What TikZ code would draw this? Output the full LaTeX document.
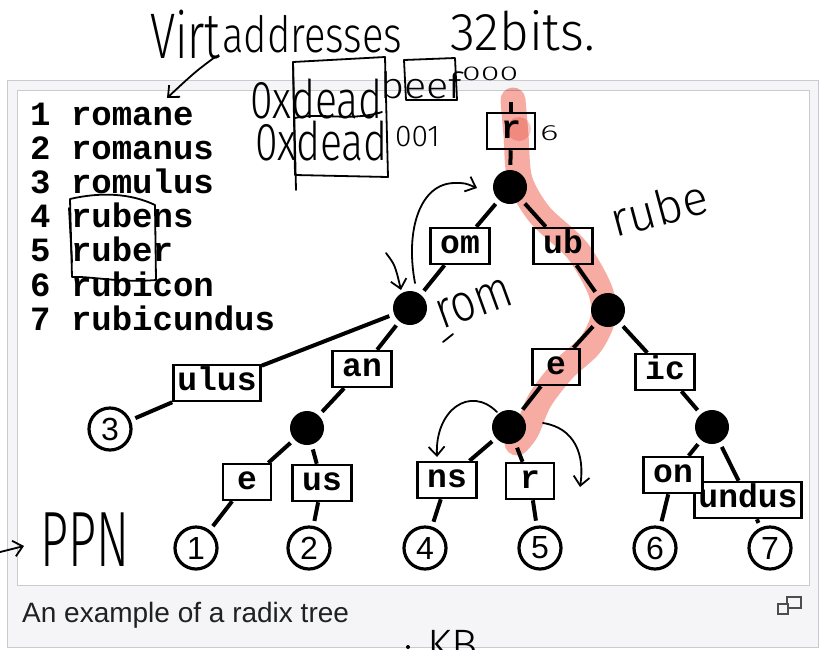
\documentclass[tikz,border=0pt]{standalone}
\usepackage{fontspec}
\setmainfont{Liberation Sans}
\newfontfamily\codefont{Liberation Mono}
\newfontfamily\handfont{Fira Sans Light}
\usetikzlibrary{arrows.meta}

\definecolor{frameline}{HTML}{C8CCD1}
\definecolor{framebg}{HTML}{F5F5F8}
\definecolor{captext}{HTML}{202122}
\definecolor{marker}{HTML}{F6ACA3}

\tikzset{
  edge/.style={line width=4pt},
  fromdot/.style={edge, shorten <=5pt},
  todot/.style={edge, shorten >=5pt},
  lbl/.style={draw, line width=2.5pt, fill=white, inner xsep=4pt, inner ysep=0pt,
    minimum width=59pt, minimum height=36pt, text height=17pt, text depth=3pt,
    font=\codefont\bfseries\fontsize{33}{33}\selectfont},
  dot/.style={circle, fill=black, minimum size=34pt, inner sep=0pt},
  leaf/.style={circle, draw, line width=3.2pt, minimum size=42pt, inner sep=0pt,
    font=\fontsize{32}{32}\selectfont},
  pen/.style={line width=1.8pt, line cap=round, line join=round},
  hand/.style={font=\handfont\fontsize{#1}{#1}\selectfont, inner sep=0pt, anchor=base west},
  barb/.style={-{Straight Barb[length=9pt,width=16pt]}},
}

\begin{document}
\begin{tikzpicture}[x=1pt,y=-1pt]
\useasboundingbox (0,0) rectangle (822,649);

% thumbnail frame
\draw[frameline, fill=framebg, line width=1pt] (7,80) rectangle (818,647);
\draw[frameline, fill=white, line width=1pt] (17,90) rectangle (809,585);

% word list
\foreach \n/\word [count=\k from 0] in {1/romane,2/romanus,3/romulus,4/rubens,5/ruber,6/rubicon,7/rubicundus}
  \node[anchor=base west, inner sep=0pt, font=\codefont\bfseries\fontsize{34}{34}\selectfont]
    (w\n) at (30,{125+34.2*\k}) {\n\ \word};

% inner nodes
\coordinate (rtop) at (511,102);
\node[lbl, minimum width=48pt] (rlbl) at (511,131) {r};
\node[dot] (root) at (510,187) {};
\node[lbl] (om) at (460,246) {om};
\node[lbl] (ub) at (563,246) {ub};
\node[dot] (rom) at (410,308) {};
\node[dot] (rub) at (608,310) {};
\node[lbl] (ulus) at (217,383) {ulus};
\node[lbl] (an) at (362,369) {an};
\node[lbl, minimum width=47pt] (e) at (556,367) {e};
\node[lbl] (ic) at (665,372) {ic};
\node[dot] (roman) at (307,428) {};
\node[dot] (rube) at (509,427) {};
\node[dot] (rubic) at (712,427) {};
\node[lbl, minimum width=48pt] (ane) at (247,482) {e};
\node[lbl] (anus) at (322,483) {us};
\node[lbl] (ens) at (447,480) {ns};
\node[lbl, minimum width=48pt] (er) at (530,481) {r};
\node[lbl] (undus) at (748,500) {undus};
\node[lbl] (on) at (673,475) {on};

% leaves
\node[leaf] (l3) at (110,429) {3};
\foreach \n/\x in {1/196,2/309,4/425,5/540,6/655,7/770}
  \node[leaf] (l\n) at (\x,548) {\n};

% edges
\draw[edge] (rtop) -- (rlbl);
\draw[todot] (rlbl) -- (root);
\draw[fromdot] (root) -- (om);
\draw[todot] (om) -- (rom);
\draw[fromdot] (root) -- (ub);
\draw[todot] (ub) -- (rub);
\draw[fromdot] (rom) -- (ulus);
\draw[todot] (ulus) -- (l3);
\draw[fromdot] (rom) -- (an);
\draw[todot] (an) -- (roman);
\draw[fromdot] (roman) -- (ane);
\draw[todot] (ane) -- (l1);
\draw[fromdot] (roman) -- (anus);
\draw[todot] (anus) -- (l2);
\draw[fromdot] (rub) -- (e);
\draw[todot] (e) -- (rube);
\draw[fromdot] (rube) -- (ens);
\draw[todot] (ens) -- (l4);
\draw[fromdot] (rube) -- (er);
\draw[todot] (er) -- (l5);
\draw[fromdot] (rub) -- (ic);
\draw[todot] (ic) -- (rubic);
\draw[fromdot] (rubic) -- (on);
\draw[todot] (on) -- (l6);
\draw[fromdot] (rubic) -- (undus);
\draw[todot] (undus) -- (l7);

% highlighter stroke along r-ub-e
\draw[marker, line width=25pt, line cap=round, line join=round, blend mode=multiply]
  plot[smooth] coordinates {(513,100) (516,135) (520,180) (540,215) (577,250) (600,290)
    (603,318) (590,345) (563,370) (540,400) (527,430) (517,443)};
\fill[marker, opacity=0.6, blend mode=multiply] (519,129) circle (12);

% caption
\node[anchor=base west, inner sep=0pt, text=captext, font=\fontsize{28}{28}\selectfont]
  (cap) at (22,622) {An example of a radix tree};
\draw[captext!80, line width=1.3pt] (787,597) rectangle (801,608);
\draw[captext!80, line width=1.3pt, fill=framebg] (778,604) rectangle (788,614);

% handwritten notes
\node[hand=46] (virt) at (150,58) {\scalebox{1}[1.4]{Virt}};
\node[hand=40] (addr) at (222,52) {\scalebox{1}[1.25]{addresses}};
\node[hand=38] (bits) at (450,50) {\scalebox{1.35}[1.4]{32bits.}};
\draw[pen, barb] (215,57) .. controls (195,72) .. (167,98);

\node[hand=41] (hexa) at (250,118) {\scalebox{1}[1.3]{0xdead}};
\node[hand=36] (beef) at (380,98) {\scalebox{1.15}[1]{beef}};
\node[hand=20] (zeros) at (462,80) {\scalebox{1.7}[1]{000}};
\node[hand=41] (hexb) at (255,160) {\scalebox{1}[1.3]{0xdead}};
\node[hand=30] (one) at (395,146) {001};
\draw[pen] (293,62) -- (385,57) -- (388,177) -- (295,175) -- cycle;
\draw[pen] (293,62) -- (296,190);
\draw[pen] (404,60) -- (455,58) -- (457,100) -- (406,100) -- cycle;
\draw[pen] (295,118) .. controls (320,112) and (350,122) .. (382,112);

\node[hand=22] (six) at (540,140) {\scalebox{1.6}[1]{6}};
\node[hand=48, rotate=15] (rubenote) at (615,238) {rube};
\node[hand=44, rotate=20] (romnote) at (442,330) {\scalebox{1}[1.2]{rom}};
\draw[pen] (443,342) .. controls (448,338) .. (453,334);

\draw[pen, barb] (415,283) .. controls (405,230) and (420,183) .. (455,183)
  .. controls (465,183) .. (477,188);
\draw[pen, barb] (386,253) .. controls (395,265) .. (401,290);
\draw[pen, barb] (497,412) .. controls (470,385) and (435,410) .. (437,457);
\draw[pen, barb] (543,423) .. controls (575,428) and (585,455) .. (580,487);

\draw[pen] (70,199) .. controls (100,192) and (130,193) .. (155,205) -- (156,280)
  .. controls (120,283) and (90,276) .. (72,277) -- cycle;
\draw[pen] (69,208) -- (72,262);

\node[hand=49] (ppn) at (40,566) {\scalebox{1}[1.6]{PPN}};
\draw[pen, barb] (0,552) -- (24,546);
\node[hand=44] (kb) at (427,660) {KB};
\fill (408,647) circle (2);
\end{tikzpicture}
\end{document}
